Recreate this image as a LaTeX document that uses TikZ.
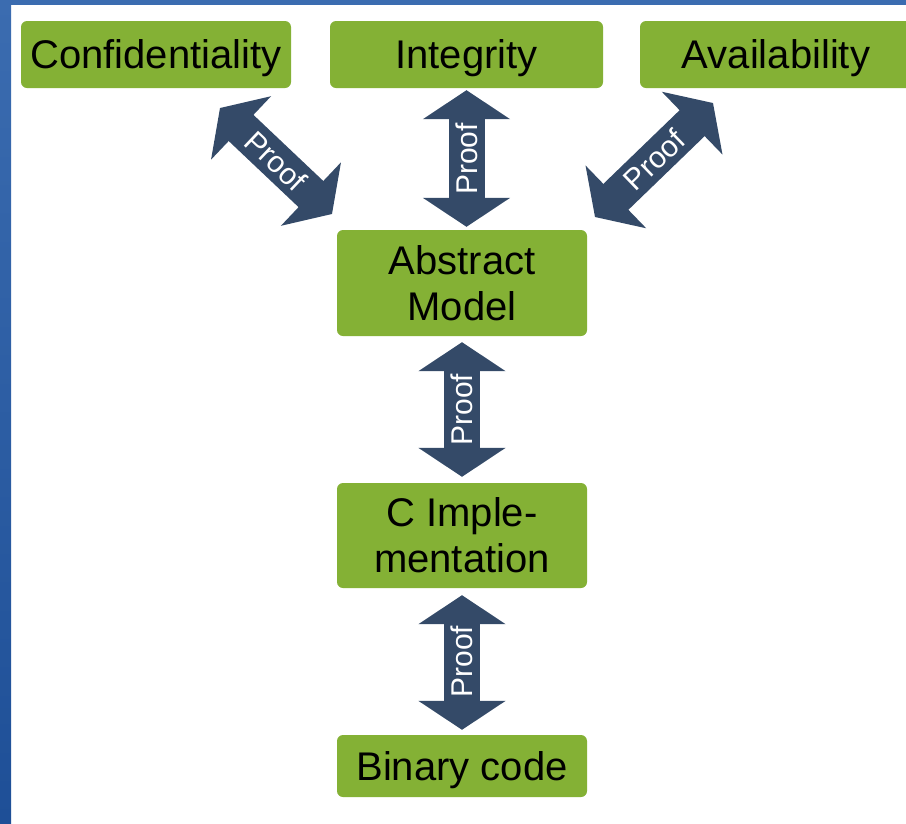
\documentclass[tikz,border=0pt]{standalone}
\usepackage{fontspec}
\setmainfont{Liberation Sans}
\usetikzlibrary{positioning,arrows.meta}
\definecolor{boxgreen}{RGB}{132,177,53}
\definecolor{arrowblue}{RGB}{52,74,104}
\definecolor{frametop}{RGB}{59,108,176}
\definecolor{framebot}{RGB}{30,79,151}
\tikzset{
	goal/.style={fill=boxgreen, rounded corners=6pt, align=center, inner sep=0pt,
		font=\fontsize{40}{46}\selectfont},
	oneline/.style={text height=28pt, text depth=0pt},
	proofarrow/.style={draw=arrowblue, line width=36pt,
		>={Triangle[length=29pt,width=86pt]}, <->},
	prooflabel/.style={midway, sloped, inner sep=0pt, text=white,
		font=\fontsize{30}{30}\selectfont}
}

\begin{document}
\begin{tikzpicture}[x=1pt, y=-1pt]
	\useasboundingbox (0,0) rectangle (906,823);
	\clip (0,0) rectangle (906,823);
	\fill[white] (0,0) rectangle (906,823);
	\shade[top color=frametop, bottom color=framebot] (0,0) rectangle (11,823);
	\fill[frametop] (0,0) rectangle (906,5);
	
	\node[goal, oneline, minimum width=270pt, minimum height=67pt] (conf) at (156,54.5) {Confidentiality};
	\node[goal, oneline, minimum width=273pt, minimum height=67pt] (integ) at (466.5,54.5) {Integrity};
	\node[goal, oneline, minimum width=272pt, minimum height=67pt] (avail) at (776,54.5) {Availability};
	
	\node[goal, minimum width=250pt, minimum height=106pt] (abstr) at (462,283) {Abstract\\Model};
	\node[goal, minimum width=250pt, minimum height=105pt] (cimpl) at (462,535.5) {C Imple-\\mentation};
	\node[goal, oneline, minimum width=250pt, minimum height=62pt] (binary) at (462,766) {Binary code};
	
	\coordinate (confpf) at (220,108);
	\coordinate (abstrpfl) at (332,214);
	\coordinate (abstrpfr) at (595,217);
	\coordinate (availpf) at (713,103);
	
	\draw[proofarrow] (confpf) -- (abstrpfl) node[prooflabel] {Proof};
	\draw[proofarrow, shorten <=3pt, shorten >=2pt] (integ.south |- abstr.north) -- (integ.south) node[prooflabel] {Proof};
	\draw[proofarrow] (abstrpfr) -- (availpf) node[prooflabel] {Proof};
	
	\draw[proofarrow, shorten <=6pt, shorten >=6pt] (cimpl.north) -- (abstr.south) node[prooflabel] {Proof};
	\draw[proofarrow, shorten <=5pt, shorten >=7pt] (binary.north) -- (cimpl.south) node[prooflabel] {Proof};
\end{tikzpicture}
\end{document}
